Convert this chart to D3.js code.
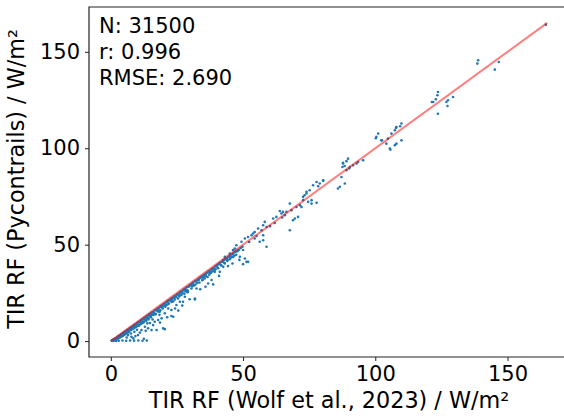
<!DOCTYPE html>
<html>
<head>
<meta charset="utf-8">
<script src="https://cdn.jsdelivr.net/npm/d3@7"></script>
<style>
  body { margin: 0; background: #fff; }
  text { font-family: "DejaVu Sans", sans-serif; fill: #000; }
</style>
</head>
<body>
<script>
// TIR RF comparison: [Wolf et al. 2023, Pycontrails], W/m2
var points = [
  [0.3,0.2],[0.6,0.4],[0.9,0.7],[1.2,0.9],[1.5,1.2],[1.8,1.5],[2.1,1.6],[2.5,2.2],[2.8,2.3],[3.2,2.9],[3.5,2.6],[3.8,3.4],[4.2,3.6],[4.6,4.2],[5,4.4],
  [1.5,0.5],[2.2,0.8],[2.8,1.4],[3.4,1.8],[4.1,2.4],[4.8,3],[3,0.2],[4.4,0.3],[5.8,0.2],[7.3,0.3],[8.8,0.2],[10.4,0.3],[12,0.2],[13.6,0.3],[2,0.1],[1,0.1],
  [5.4,5],[5.9,5.3],[6.3,5.9],[6.8,6.1],[7.2,6.8],[7.7,7],[8.1,7.6],[8.6,7.9],[9,8.5],[9.5,8.7],[10,9.4],[5.6,3.9],[6.2,4.5],[6.9,5.2],[7.5,5.6],
  [8.3,6.4],[9.1,7.1],[9.8,7.7],[6.5,3.1],[7.6,3.9],[8.9,4.8],[9.9,5.9],[7.8,2.2],[10.3,3.1],[8.5,1.4],[11.6,5.7],
  [10.5,9.9],[11,10.2],[11.5,10.9],[12,11.3],[12.5,11.9],[13,12.2],[13.5,12.9],[14,13.2],[14.5,13.9],[15,14.2],[15.5,14.8],[16,15.1],[16.6,15.9],
  [17.1,16.2],[17.7,16.9],[18.2,17.3],[18.8,18],[19.3,18.4],[19.9,19.1],[10.8,8.4],[11.7,9.3],[12.6,10.1],[13.4,10.6],[14.3,11.8],[15.2,12.4],
  [16.1,13.5],[17,14.1],[17.9,15.3],[18.7,16],[19.6,16.9],[12.9,7.4],[14.1,6.6],[15.4,5.7],[17.3,5.7],[19.8,6.6],[16.6,10],[17.9,10.9],[19.2,11.8],
  [13.8,9.2],[15.8,11.2],[18.4,13.6],
  [20.4,19.5],[21,20.1],[21.6,20.9],[22.1,21.2],[22.7,21.9],[23.3,22.3],[23.9,23.1],[24.5,23.5],[25.1,24.3],[25.7,24.7],[26.3,25.5],[26.9,25.8],
  [27.5,26.7],[28.1,27.1],[28.7,27.9],[29.3,28.2],[29.9,29.1],[20.6,17.8],[21.7,16.9],[22.9,16.1],[20.4,14.4],[23.6,12.6],[22.9,13],[24.8,18.7],
  [26.1,20.4],[27.3,20.4],[28,23],[29.2,25.5],[20.4,6.2],[21.5,19],[23,20.3],[24.2,21.6],[25.4,22.1],[26.7,23.9],[27.8,24.6],[29,26.4],[24,22.4],
  [26,24],[28.4,25.9],
  [30.5,29.6],[31.1,30.2],[31.8,31],[32.4,31.4],[33,32.2],[33.7,32.8],[34.3,33.4],[35,34.1],[35.6,34.7],[36.3,35.4],[36.9,36],[37.6,36.6],
  [38.2,37.3],[38.9,37.9],[39.5,38.7],[30.5,27.3],[31.8,22.1],[32.4,27.3],[33,31.6],[35.5,32.5],[34.3,33.3],[37.4,35.1],[36.8,29.9],[38.7,29.4],
  [39.3,35.9],[31.8,21.6],[30.8,28.4],[32,29.3],[33.5,30.4],[34.6,31.6],[36,33.7],[37.2,34.4],[38.3,36.1],[39.6,37.2],[35,33],[39,36.5],
  [40.1,39.3],[40.7,39.9],[41.3,40.6],[42,41.1],[42.6,41.9],[43.2,42.4],[43.9,43],[44.5,43.7],[45.1,44.4],[45.8,44.9],[46.4,45.7],[47,46.3],
  [41.2,35.9],[42.5,38.5],[40.6,37.8],[41.8,39.2],[43.1,40.3],[44,41.6],[45,42.5],[46.2,43.6],[47.4,44.8],[50,39.9],[51.9,41.1],[42.5,42],
  [43.1,43.7],[45,45.4],[46.2,47.2],[46.9,48],[47.5,49.7],[48.1,47.2],[48.8,43.7],[50,47.2],[50.7,42.8],[51.3,41.1],
  [49.4,51.5],[50.7,53.2],[51.9,54],[53.2,54.9],[53.8,55.8],[54.4,56.6],[55.7,58.4],[57,57.5],[57.6,60.1],[58.2,61.8],[58.9,59.2],[54.4,53.2],
  [57.6,54.9],[57.6,52.3],[56.3,51.5],[58.9,48.9],[61.4,63.6],[62.6,64.4],[63.9,67.5],[64.5,66.2],[65.1,67],[66.4,67],[65.8,65.3],[67.7,71.3],
  [68.3,67.9],[69.6,63.6],[70.8,64.4],[68.9,62.7],[67.7,57.5],
  [71.5,70.5],[72.1,69.6],[72.7,74.8],[73.3,75.6],[74,77.4],[75.2,78.2],[74.6,72.2],[75.9,71.3],[77.8,71.7],[76.5,80.8],[78.4,80.3],[77.8,82.5],
  [79,81.7],[80.3,83.1],[80.3,83.4],[75.9,73.1],[72.7,73.1],[74,76.5],[85.9,79.1],[86.6,80],[88.5,81.7],[87.2,85.1],[87.8,92.1],[89.7,94.6],
  [89.1,88.6],[90.4,90.3],[91.6,91.2],[93.5,92.9],[95.4,93.8],[87.6,90.3],[88.4,90.8],[90.1,89.5],[92.9,92.1],[89.1,93.3],[87.8,92.4],
  [100.4,105.9],[101.1,107.6],[102.3,104.1],[104.8,105],[104.2,102.4],[105.5,99.8],[107.4,101.6],[108,102.4],[107.4,109.3],[108,111],[109.9,112.8],
  [106.1,107.6],[109.9,104.1],[107.8,110.5],[109.4,111.4],[102.5,104.1],[100.2,105.2],[105.7,99.3],
  [121.9,124],[122.9,125.4],[123.5,127.5],[123.7,129.2],[126.9,124],[127.5,124.9],[127.3,121.9],[129.4,126.6],[123.7,117.9],[121.4,124],
  [138.9,145.6],[138.6,143.9],[146.7,144.7],[145.2,140.8],[164.5,164.1]
];
// denser part of the cloud close to the 1:1 line
var densePoints = [
  [0.5,0.3],[0.8,0.5],[1.1,0.6],[1.4,0.8],[1.7,1.0],[2.0,1.2],[2.4,1.5],[2.7,1.8],[3.0,2.0],[3.3,2.3],[3.6,2.2],[3.9,2.7],[4.3,3.0],[4.5,2.7],
  [4.9,3.6],[5.2,3.3],[5.5,4.4],[5.8,4.0],[6.1,4.8],[6.4,5.1],[6.7,4.6],[7.0,5.8],[7.4,6.2],[7.8,5.9],[8.0,6.9],[8.4,7.2],[8.7,6.6],[9.2,8.0],
  [9.6,7.4],[10.1,8.8],[10.6,8.0],[11.1,9.7],[11.4,8.9],[11.9,10.5],[12.3,9.6],[12.8,11.3],[13.2,10.9],[13.7,12.0],[14.2,11.2],[14.7,13.1],
  [15.1,12.8],[15.6,13.7],[16.3,14.6],[16.8,13.9],[17.4,15.8],[18.0,16.3],[18.5,15.2],[19.1,17.6],[19.7,17.9],[20.2,18.9],[20.9,18.6],[21.4,20.2],
  [22.0,19.5],[22.5,20.9],[23.1,21.4],[23.6,20.6],[24.2,23.0],[24.8,22.9],[25.4,24.0],[25.9,23.2],[26.5,25.2],[27.1,24.8],[27.7,26.2],[28.3,26.8],
  [28.9,25.3],[29.6,28.4],[30.2,29.0],[30.9,29.5],[31.5,28.8],[32.1,30.9],[32.7,30.1],[33.3,32.0],[34.0,33.0],[34.7,31.9],[35.3,33.9],[36.0,34.9],
  [36.6,33.2],[37.3,36.0],[37.9,35.5],[38.6,37.5],[39.2,37.0],[39.9,38.9],[40.4,38.2],[41.0,40.0],[41.6,39.4],[42.3,41.2],[42.9,40.6],[43.6,42.7],
  [44.2,42.0],[44.8,43.9],[45.5,43.4],[46.1,45.2],[46.7,44.3],[47.3,46.5],[47.9,46.6],[48.5,47.4],[49.1,48.3],[49.8,48.9],[52.3,51.4],[55.1,54.5],
  [60.2,59.6],[62.0,61.2],[64.8,64.1],[70.2,69.5],
  [6.0,1.9],[9.3,2.6],[11.0,4.4],[12.5,1.2],[13.2,5.3],[16.0,8.3],[14.8,9.4],[18.6,9.6],[21.3,12.4],[25.5,15.8],[27.0,18.4],[24.3,16.9],
  [29.8,21.7],[33.8,26.9],[35.8,28.2],[38.1,31.7],[40.9,33.8],[44.3,38.9],[46.0,40.2],[48.6,42.1]
];
var oneToOne = [0, 165];
var ticks = [0, 50, 100, 150];
var stats = ["N: 31500", "r: 0.996", "RMSE: 2.690"];
var xLabel = "TIR RF (Wolf et al., 2023) / W/m\u00b2";
var yLabel = "TIR RF (Pycontrails) / W/m\u00b2";

var W = 564, H = 418;
var svg = d3.select("body").append("svg")
    .attr("width", W).attr("height", H);

// plot area (matplotlib default 5% margins, right spine falls off the picture)
var x = d3.scaleLinear().domain([-8.25, 173.25]).range([89, 569]);
var y = d3.scaleLinear().domain([-8.25, 173.25]).range([357, 7]);

// points
svg.append("g").selectAll("circle")
    .data(points.concat(densePoints))
    .enter().append("circle")
    .attr("cx", function(d) { return x(d[0]); })
    .attr("cy", function(d) { return y(d[1]); })
    .attr("r", 1.3)
    .style("fill", "#1f77b4");

// 1:1 line
svg.append("line")
    .attr("x1", x(oneToOne[0])).attr("y1", y(oneToOne[0]))
    .attr("x2", x(oneToOne[1])).attr("y2", y(oneToOne[1]))
    .style("stroke", "#ff0000").style("stroke-opacity", 0.5)
    .style("stroke-width", 2);

// axes
var xaxis = d3.axisBottom(x).tickValues(ticks).tickSize(4).tickPadding(5);
var yaxis = d3.axisLeft(y).tickValues(ticks).tickSize(4).tickPadding(5);

var gx = svg.append("g")
    .attr("transform", "translate(0," + 357 + ")")
    .call(xaxis);
var gy = svg.append("g")
    .attr("transform", "translate(" + 89 + ",0)")
    .call(yaxis);

[gx, gy].forEach(function(g) {
    g.select(".domain").remove();
    g.selectAll(".tick line").style("stroke", "#222").style("stroke-width", 1);
    g.selectAll(".tick text")
        .style("font-size", "21px")
        .style("font-family", "DejaVu Sans");
});

// spines (top, left, bottom)
svg.append("path")
    .attr("d", "M" + 569 + "," + 7 + "H" + 89 + "V" + 357 + "H" + 569)
    .style("fill", "none").style("stroke", "#222").style("stroke-width", 1.2);

// stats text
svg.append("g").selectAll("text")
    .data(stats)
    .enter().append("text")
    .attr("x", 99)
    .attr("y", function(d, i) { return 33 + i * 26; })
    .style("font-size", "21px")
    .text(function(d) { return d; });

// axis labels
svg.append("text")
    .attr("x", 329).attr("y", 408)
    .attr("text-anchor", "middle")
    .style("font-size", "22.3px")
    .text(xLabel);

svg.append("text")
    .attr("transform", "translate(24,179) rotate(-90)")
    .attr("text-anchor", "middle")
    .style("font-size", "22.3px")
    .text(yLabel);
</script>
</body>
</html>
